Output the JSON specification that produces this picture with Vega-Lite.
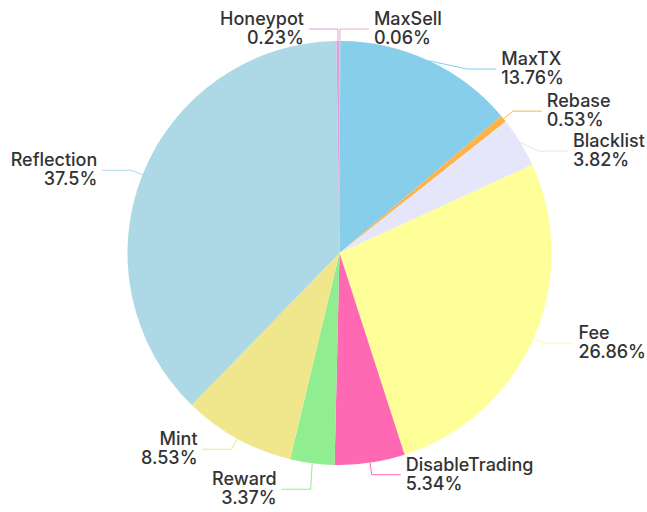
{
  "$schema": "https://vega.github.io/schema/vega-lite/v6.json",
  "width": 615,
  "height": 506,
  "autosize": {"type": "none"},
  "padding": {"left": 32, "top": 0, "right": 0, "bottom": 6},
  "background": "white",
  "config": {"view": {"stroke": null}},
  "data": {
    "values": [
      {"category": "MaxSell", "value": 0.06},
      {"category": "MaxTX", "value": 13.76},
      {"category": "Rebase", "value": 0.53},
      {"category": "Blacklist", "value": 3.82},
      {"category": "Fee", "value": 26.86},
      {"category": "DisableTrading", "value": 5.34},
      {"category": "Reward", "value": 3.37},
      {"category": "Mint", "value": 8.53},
      {"category": "Reflection", "value": 37.5},
      {"category": "Honeypot", "value": 0.23}
    ]
  },
  "transform": [
    {"window": [{"op": "row_number", "as": "idx"}]},
    {"window": [{"op": "sum", "field": "value", "as": "cum"}], "sort": [{"field": "idx"}], "frame": [null, 0]},
    {"joinaggregate": [{"op": "sum", "field": "value", "as": "total"}]},
    {"calculate": "(datum.cum - datum.value / 2) / datum.total * 2 * PI", "as": "ang"},
    {"calculate": "sin(datum.ang) >= 0 ? 1 : -1", "as": "side"},
    {"calculate": "212 * sin(datum.ang)", "as": "px1"},
    {"calculate": "-212 * cos(datum.ang)", "as": "py1"},
    {"calculate": "-224 * cos(datum.ang)", "as": "py2n"},
    {"window": [{"op": "row_number", "as": "k"}], "groupby": ["side"], "sort": [{"field": "py2n", "order": "ascending"}]},
    {"calculate": "datum.py2n - 40 * datum.k", "as": "v"},
    {"window": [{"op": "max", "field": "v", "as": "vmax"}], "groupby": ["side"], "sort": [{"field": "py2n", "order": "ascending"}], "frame": [null, 0]},
    {"calculate": "datum.vmax + 40 * datum.k", "as": "py2"},
    {"calculate": "datum.side * sqrt(max(224 * 224 - datum.py2 * datum.py2, pow(224 * sin(datum.ang), 2)))", "as": "px2"},
    {"calculate": "datum.px2 + datum.side * 29", "as": "px3"},
    {"calculate": "datum.px3 + datum.side * 5", "as": "pxl"},
    {"calculate": "datum.category + '\\n' + datum.value + '%'", "as": "label"}
  ],
  "layer": [
    {
      "mark": {"type": "arc", "outerRadius": 212},
      "encoding": {
        "theta": {"field": "value", "type": "quantitative", "stack": true},
        "order": {"field": "idx", "type": "quantitative"},
        "color": {
          "field": "category",
          "type": "nominal",
          "legend": null,
          "scale": {
            "domain": ["MaxSell", "MaxTX", "Rebase", "Blacklist", "Fee", "DisableTrading", "Reward", "Mint", "Reflection", "Honeypot"],
            "range": ["#F4A6C0", "#87CEEB", "#FFB347", "#E6E6FA", "#FFFF99", "#FF69B4", "#90EE90", "#F0E68C", "#ADD8E6", "#DDA0DD"]
          }
        }
      }
    },
    {
      "mark": {"type": "rule", "strokeWidth": 1},
      "encoding": {
        "x": {"field": "px1", "type": "quantitative", "scale": {"domain": [-307.5, 307.5], "nice": false, "zero": false}, "axis": null},
        "y": {"field": "py1", "type": "quantitative", "scale": {"domain": [-253, 253], "reverse": true, "nice": false, "zero": false}, "axis": null},
        "x2": {"field": "px2"},
        "y2": {"field": "py2"},
        "color": {"field": "category", "type": "nominal", "legend": null}
      }
    },
    {
      "mark": {"type": "rule", "strokeWidth": 1},
      "encoding": {
        "x": {"field": "px2", "type": "quantitative"},
        "y": {"field": "py2", "type": "quantitative"},
        "x2": {"field": "px3"},
        "y2": {"field": "py2"},
        "color": {"field": "category", "type": "nominal", "legend": null}
      }
    },
    {
      "transform": [{"filter": "datum.side == 1"}],
      "mark": {"type": "text", "align": "left", "baseline": "middle", "dy": -9, "lineBreak": "\n", "lineHeight": 19, "font": "Inter", "fontSize": 18, "fontWeight": 500, "color": "#333333"},
      "encoding": {
        "x": {"field": "pxl", "type": "quantitative"},
        "y": {"field": "py2", "type": "quantitative"},
        "text": {"field": "label", "type": "nominal"}
      }
    },
    {
      "transform": [{"filter": "datum.side == -1"}],
      "mark": {"type": "text", "align": "right", "baseline": "middle", "dy": -9, "lineBreak": "\n", "lineHeight": 19, "font": "Inter", "fontSize": 18, "fontWeight": 500, "color": "#333333"},
      "encoding": {
        "x": {"field": "pxl", "type": "quantitative"},
        "y": {"field": "py2", "type": "quantitative"},
        "text": {"field": "label", "type": "nominal"}
      }
    }
  ]
}
